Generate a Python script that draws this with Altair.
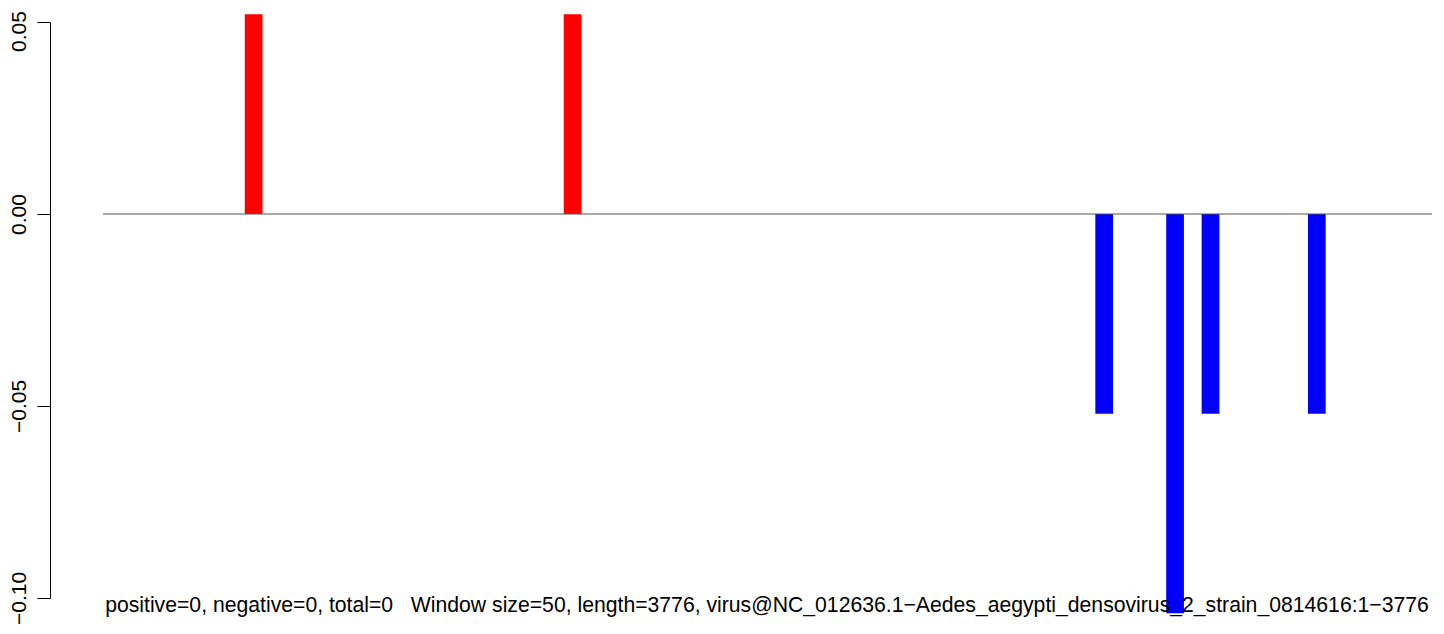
import altair as alt
import pandas as pd

# Window indices (0-based, window size 50 over length 3776) and their values
window_index = [8, 26, 56, 60, 62, 68]
window_value = [0.052, 0.052, -0.052, -0.104, -0.052, -0.052]
n_windows = 75

y_ticks = [-0.10, -0.05, 0.00, 0.05]
caption = ("positive=0, negative=0, total=0\u00a0\u00a0\u00a0Window size=50, length=3776, "
           "virus@NC_012636.1\u2212Aedes_aegypti_densovirus_2_strain_0814616:1\u22123776")

df = pd.DataFrame({
    "start": window_index,
    "end": [i + 1 for i in window_index],
    "value": window_value,
    "sign": ["pos" if v > 0 else "neg" for v in window_value],
})

FONT = "Liberation Sans"
W, H = 1329, 576

xscale = alt.Scale(domain=[0, n_windows], nice=False, zero=False)
yscale = alt.Scale(domain=[-0.10, 0.05], nice=False, zero=False)

bars = alt.Chart(df).mark_bar(clip=False, strokeWidth=0).encode(
    x=alt.X("start:Q", scale=xscale, axis=None),
    x2="end:Q",
    y=alt.Y("value:Q", scale=yscale,
            axis=alt.Axis(values=y_ticks, format=".2f", title=None,
                          offset=53, grid=False,
                          domainColor="black", domainWidth=1,
                          tickColor="black", tickWidth=1, tickSize=13,
                          labelAngle=-90, labelAlign="center",
                          labelBaseline="bottom", labelPadding=8,
                          labelOffset=alt.condition("datum.value > 0.04", alt.value(9), alt.value(0)),
                          labelFont=FONT, labelFontSize=21,
                          labelColor="black", labelOverlap=False,
                          labelBound=False)),
    y2=alt.datum(0),
    color=alt.Color("sign:N",
                    scale=alt.Scale(domain=["pos", "neg"], range=["#ff0000", "#0000ff"]),
                    legend=None),
)

zero_line = alt.Chart(pd.DataFrame({"y": [0.0]})).mark_rule(
    color="#555555", strokeWidth=1
).encode(y=alt.Y("y:Q", scale=yscale))

text = alt.Chart(pd.DataFrame({"t": [caption]})).mark_text(
    font=FONT, fontSize=21.2, color="black", align="center", baseline="alphabetic"
).encode(text="t:N", x=alt.value(W / 2 - 0.5), y=alt.value(590))

chart = alt.layer(bars, zero_line, text).properties(
    width=W, height=H,
    autosize=alt.AutoSizeParams(type="none"),
    padding={"left": 95, "top": 14, "right": 4, "bottom": 28},
).configure(background="white").configure_view(strokeWidth=0, stroke="transparent")

chart.save("out.html", embed_options={"renderer": "svg", "actions": False})
